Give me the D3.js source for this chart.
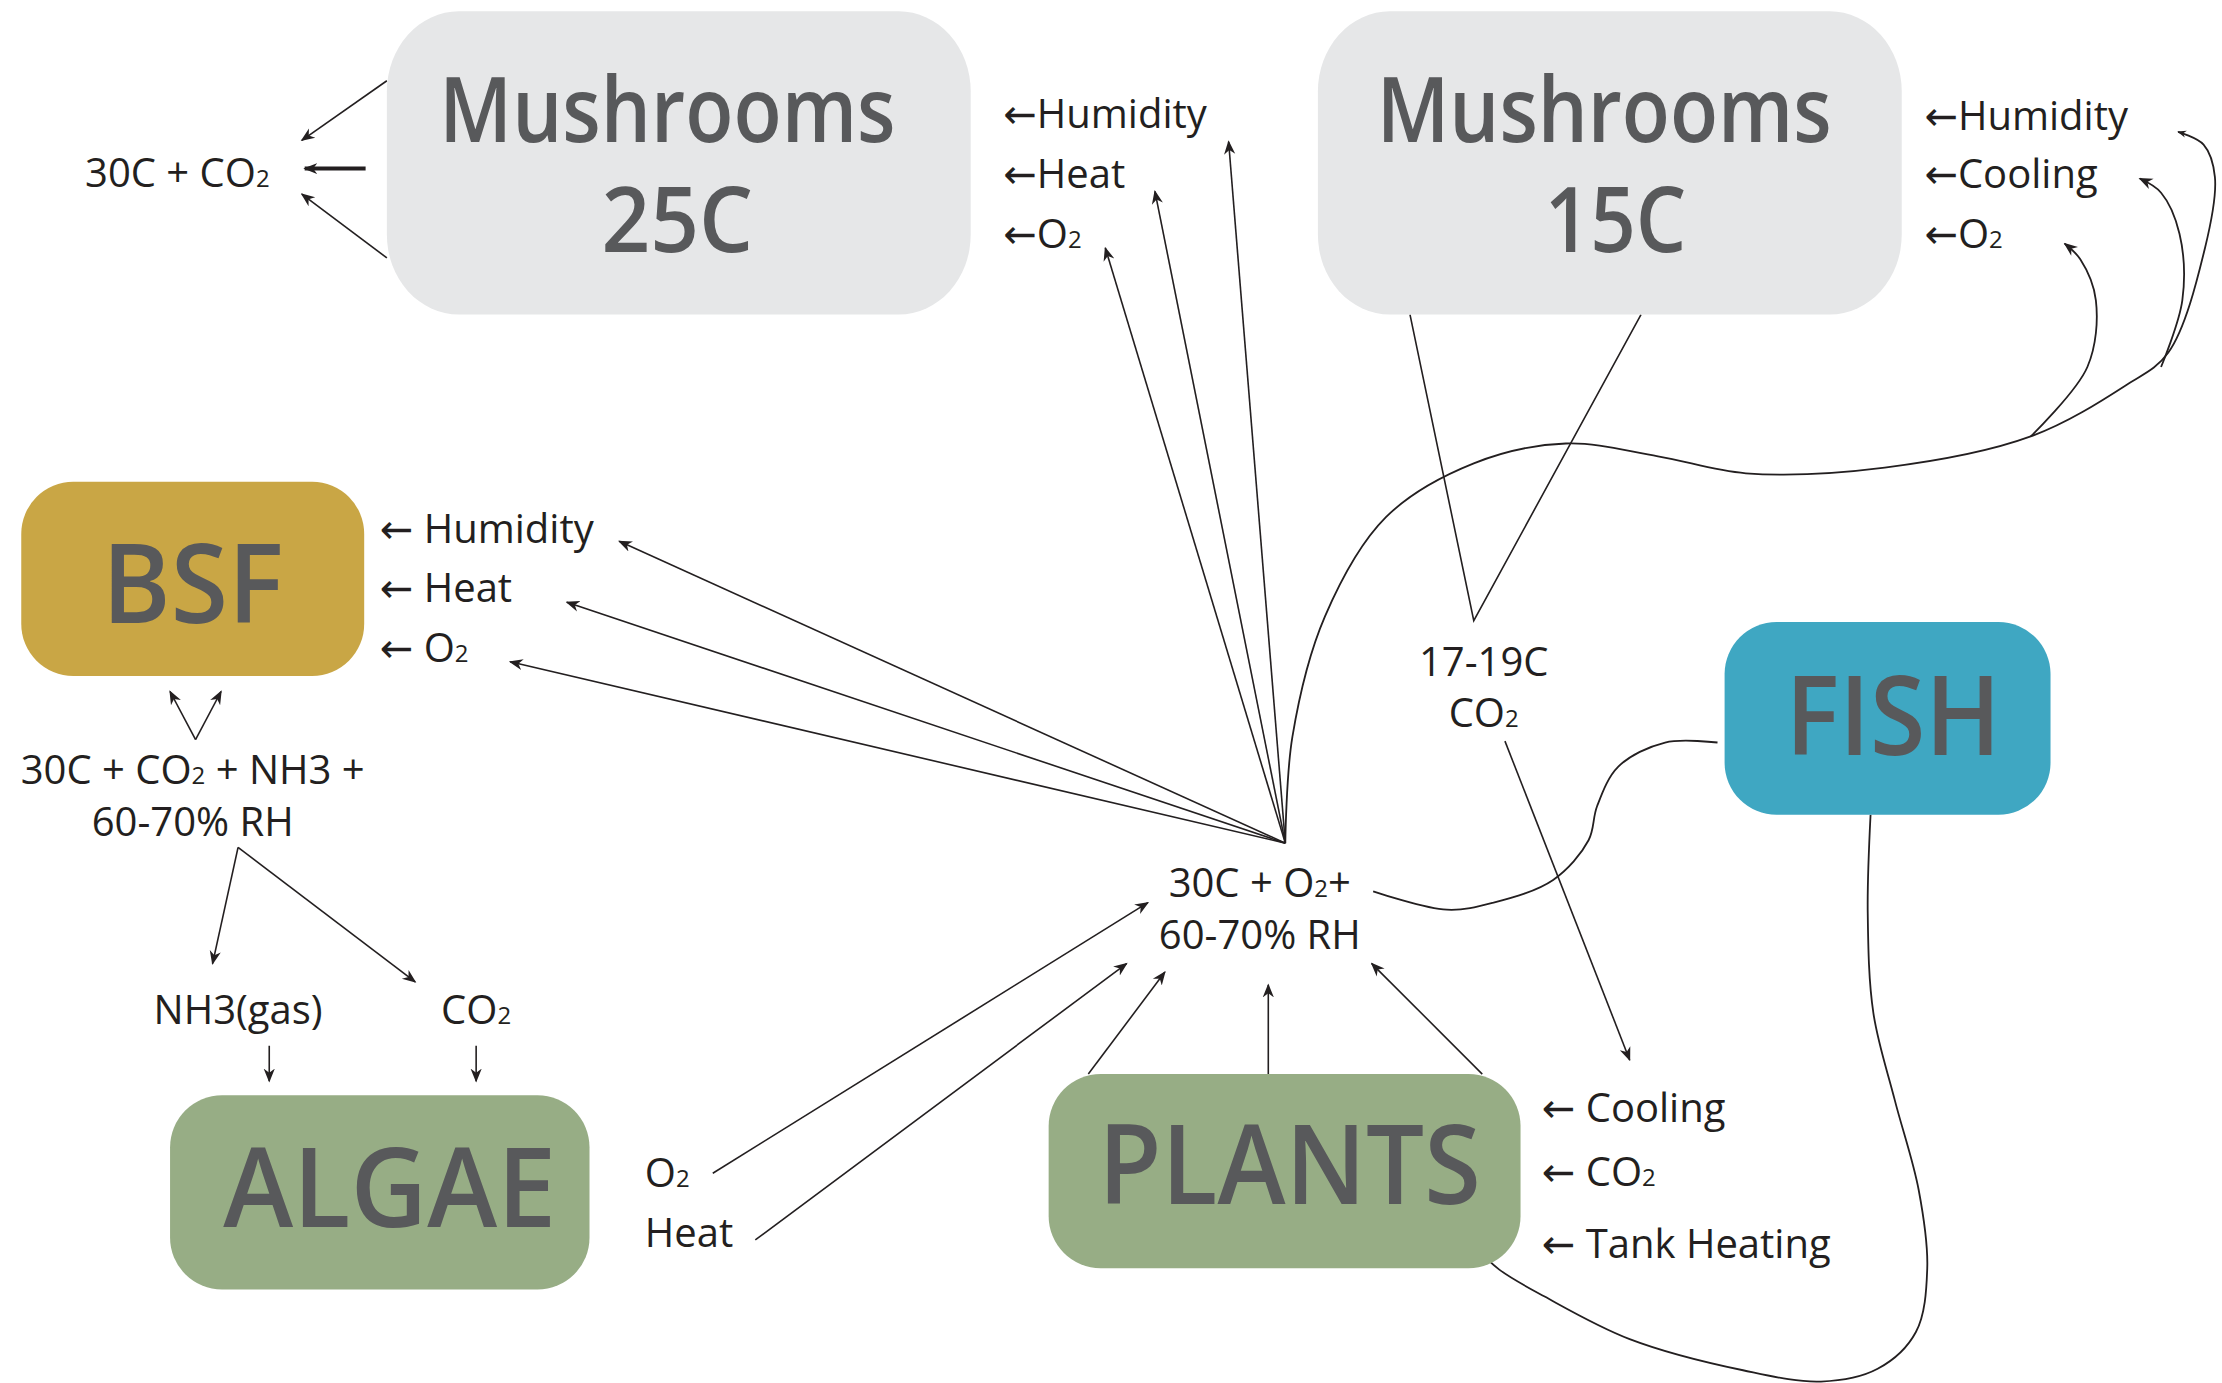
<!DOCTYPE html>
<html>
<head>
<meta charset="utf-8">
<script src="https://cdn.jsdelivr.net/npm/d3@7"></script>
<style>
  body { margin: 0; background: #fff; }
  text { font-family: "Open Sans", "DejaVu Sans", sans-serif; }
</style>
</head>
<body>
<script>
let width = 2222;
let height = 1383;

// sketch space is the 1568 x 976 drawing, scaled up to the page
let x = d3.scaleLinear().domain([0, 1568]).range([0, width]);
let y = d3.scaleLinear().domain([0, 976]).range([0, height]);

// boxes: [left, top, right, bottom]
let boxNames  = ['Mushrooms 25C', 'Mushrooms 15C', 'BSF', 'FISH', 'ALGAE', 'PLANTS'];
let boxExtent = [[273, 8, 685, 222], [930, 8, 1342, 222], [15, 340, 257, 477],
                 [1217, 439, 1447, 575], [120, 773, 416, 910], [740, 758, 1073, 895]];
let boxColors = ['#e6e7e8', '#e6e7e8', '#c9a645', '#3fa7c2', '#97ad85', '#97ad85'];

// big titles: [text, centre x, baseline y, width]
let titles = [
  ['Mushrooms', 471, 100, 322], ['25C', 478, 178, 107],
  ['Mushrooms', 1132, 100, 321], ['15C', 1140, 178, 100],
  ['BSF', 136, 440, 128], ['FISH', 1336, 533, 152],
  ['ALGAE', 275, 866, 235], ['PLANTS', 910, 850, 270]
];

// small labels: [text, x, baseline y, anchor]
let labels = [
  ['30C + CO₂', 60, 132, 'start'],
  ['←Humidity', 708, 90, 'start'], ['←Heat', 708, 133, 'start'], ['←O₂', 708, 175, 'start'],
  ['←Humidity', 1358, 92, 'start'], ['←Cooling', 1358, 133, 'start'], ['←O₂', 1358, 175, 'start'],
  ['← Humidity', 268, 383, 'start'], ['← Heat', 268, 425, 'start'], ['← O₂', 268, 467, 'start'],
  ['30C + CO₂ + NH3 +', 136, 553, 'middle'], ['60-70% RH', 136, 590, 'middle'],
  ['NH3(gas)', 168, 723, 'middle'], ['CO₂', 336, 723, 'middle'],
  ['O₂', 455, 838, 'start'], ['Heat', 455, 880, 'start'],
  ['30C + O₂+', 889, 633, 'middle'], ['60-70% RH', 889, 670, 'middle'],
  ['17-19C', 1047, 477, 'middle'], ['CO₂', 1047, 513, 'middle'],
  ['← Cooling', 1088, 792, 'start'], ['← CO₂', 1088, 837, 'start'], ['← Tank Heating', 1088, 888, 'start']
];

let hub = [907, 595];

// straight arrows: [from, to]
let arrows = [
  [[273, 57], [213, 99]], [[273, 182], [213, 137]],
  [hub, [867, 100]], [hub, [815, 135]], [hub, [780, 175]],
  [hub, [437, 382]], [hub, [400, 425]], [hub, [360, 467]],
  [[138, 522], [120, 488]], [[138, 522], [156, 488]],
  [[168, 598], [150, 680]], [[168, 598], [293, 693]],
  [[190, 738], [190, 763]], [[336, 738], [336, 763]],
  [[503, 828], [810, 637]], [[533, 875], [795, 680]],
  [[768, 758], [822, 686]], [[895, 758], [895, 695]], [[1046, 758], [968, 680]],
  [[1062, 523], [1150, 748]]
];
let thickArrow = [[258, 119], [215, 119]];

// plain polyline from Mushrooms 15C
let vLine = [[995, 222], [1040, 438], [1158, 222]];

// curves
let curveToHumidity = [hub, [912, 520], [935, 435], [978, 365], [1040, 327], [1105, 313], [1170, 322],
  [1232, 334], [1330, 330], [1433, 308], [1500, 272], [1530, 249], [1556, 175], [1563, 125], [1555, 102], [1537, 93]];
let curveToO2 = [[1433, 308], [1473, 259], [1479, 212], [1468, 183], [1457, 172]];
let curveToCooling = [[1525, 259], [1540, 212], [1538, 165], [1525, 136], [1510, 126]];
let curveFish = [[1212, 524], [1175, 524], [1142, 541], [1127, 569], [1121, 593], [1096, 621],
  [1054, 637], [1021, 642], [969, 629]];
let curveLoop = [[1320, 575], [1318, 644], [1322, 715], [1337, 776], [1354, 840], [1360, 895],
  [1352, 940], [1325, 966], [1285, 975], [1230, 967], [1150, 945], [1090, 915], [1058, 896], [1041, 880]];

let svg = d3.select('body').append('svg')
    .attr('width', width)
    .attr('height', height);

let defs = svg.append('defs');
defs.append('marker')
    .attr('id', 'head')
    .attr('viewBox', '0 0 10 10')
    .attr('refX', 9)
    .attr('refY', 5)
    .attr('markerWidth', 14)
    .attr('markerHeight', 14)
    .attr('markerUnits', 'userSpaceOnUse')
    .attr('orient', 'auto')
  .append('path')
    .attr('d', 'M0,1 L10,5 L0,9 L3,5 Z')
    .attr('fill', '#231f20');
defs.append('marker')
    .attr('id', 'tiny')
    .attr('viewBox', '0 0 10 10')
    .attr('refX', 9)
    .attr('refY', 5)
    .attr('markerWidth', 9)
    .attr('markerHeight', 9)
    .attr('markerUnits', 'userSpaceOnUse')
    .attr('orient', 'auto')
  .append('path')
    .attr('d', 'M0,1 L10,5 L0,9 L3,5 Z')
    .attr('fill', '#231f20');

let ink = '#231f20';
let line = d3.line().x(d => x(d[0])).y(d => y(d[1]));
let smooth = d3.line().x(d => x(d[0])).y(d => y(d[1])).curve(d3.curveCatmullRom.alpha(0.5));

svg.append('g')
  .selectAll('path')
  .data(arrows)
  .enter()
  .append('path')
    .attr('d', d => line(d))
    .attr('fill', 'none')
    .attr('stroke', ink)
    .attr('stroke-width', 1.6)
    .attr('marker-end', 'url(#head)');

svg.append('path')
    .attr('d', line(thickArrow))
    .attr('fill', 'none')
    .attr('stroke', ink)
    .attr('stroke-width', 4)
    .attr('marker-end', 'url(#head)');

svg.append('path')
    .attr('d', line(vLine))
    .attr('fill', 'none')
    .attr('stroke', ink)
    .attr('stroke-width', 1.6);

svg.append('g')
  .selectAll('path')
  .data([curveToHumidity, curveToO2, curveToCooling])
  .enter()
  .append('path')
    .attr('d', d => smooth(d))
    .attr('fill', 'none')
    .attr('stroke', ink)
    .attr('stroke-width', 1.8)
    .attr('marker-end', (d, i) => i === 0 ? 'url(#tiny)' : 'url(#head)');

svg.append('g')
  .selectAll('path')
  .data([curveFish, curveLoop])
  .enter()
  .append('path')
    .attr('d', d => smooth(d))
    .attr('fill', 'none')
    .attr('stroke', ink)
    .attr('stroke-width', 1.8);

// boxes
svg.append('g')
  .selectAll('rect')
  .data(boxNames)
  .enter()
  .append('rect')
    .attr('x', (d, i) => x(boxExtent[i][0]))
    .attr('y', (d, i) => y(boxExtent[i][1]))
    .attr('width', (d, i) => x(boxExtent[i][2]) - x(boxExtent[i][0]))
    .attr('height', (d, i) => y(boxExtent[i][3]) - y(boxExtent[i][1]))
    .attr('rx', (d, i) => i < 2 ? 72 : 52)
    .attr('ry', (d, i) => i < 2 ? 80 : 52)
    .attr('fill', (d, i) => boxColors[i]);

svg.append('g')
  .selectAll('text')
  .data(titles)
  .enter()
  .append('text')
    .attr('x', d => x(d[1]))
    .attr('y', d => y(d[2]))
    .attr('text-anchor', 'middle')
    .attr('textLength', d => x(d[3]))
    .attr('lengthAdjust', 'spacingAndGlyphs')
    .attr('font-size', (d, i) => i < 4 ? 90 : 110)
    .attr('font-weight', 600)
    .attr('fill', '#58595b')
    .text(d => d[0]);

// small labels, with the subscript 2 set small
let small = svg.append('g')
  .selectAll('text')
  .data(labels)
  .enter()
  .append('text')
    .attr('x', d => x(d[1]))
    .attr('y', d => y(d[2]))
    .attr('text-anchor', d => d[3])
    .attr('font-size', 40)
    .attr('font-weight', 500)
    .attr('fill', ink);

small.each(function(d) {
  let t = d3.select(this);
  let parts = d[0].split('₂');
  parts.forEach((p, j) => {
    if (p) t.append('tspan').text(p);
    if (j < parts.length - 1) t.append('tspan').attr('font-size', 24).text('2');
  });
});
</script>
</body>
</html>
